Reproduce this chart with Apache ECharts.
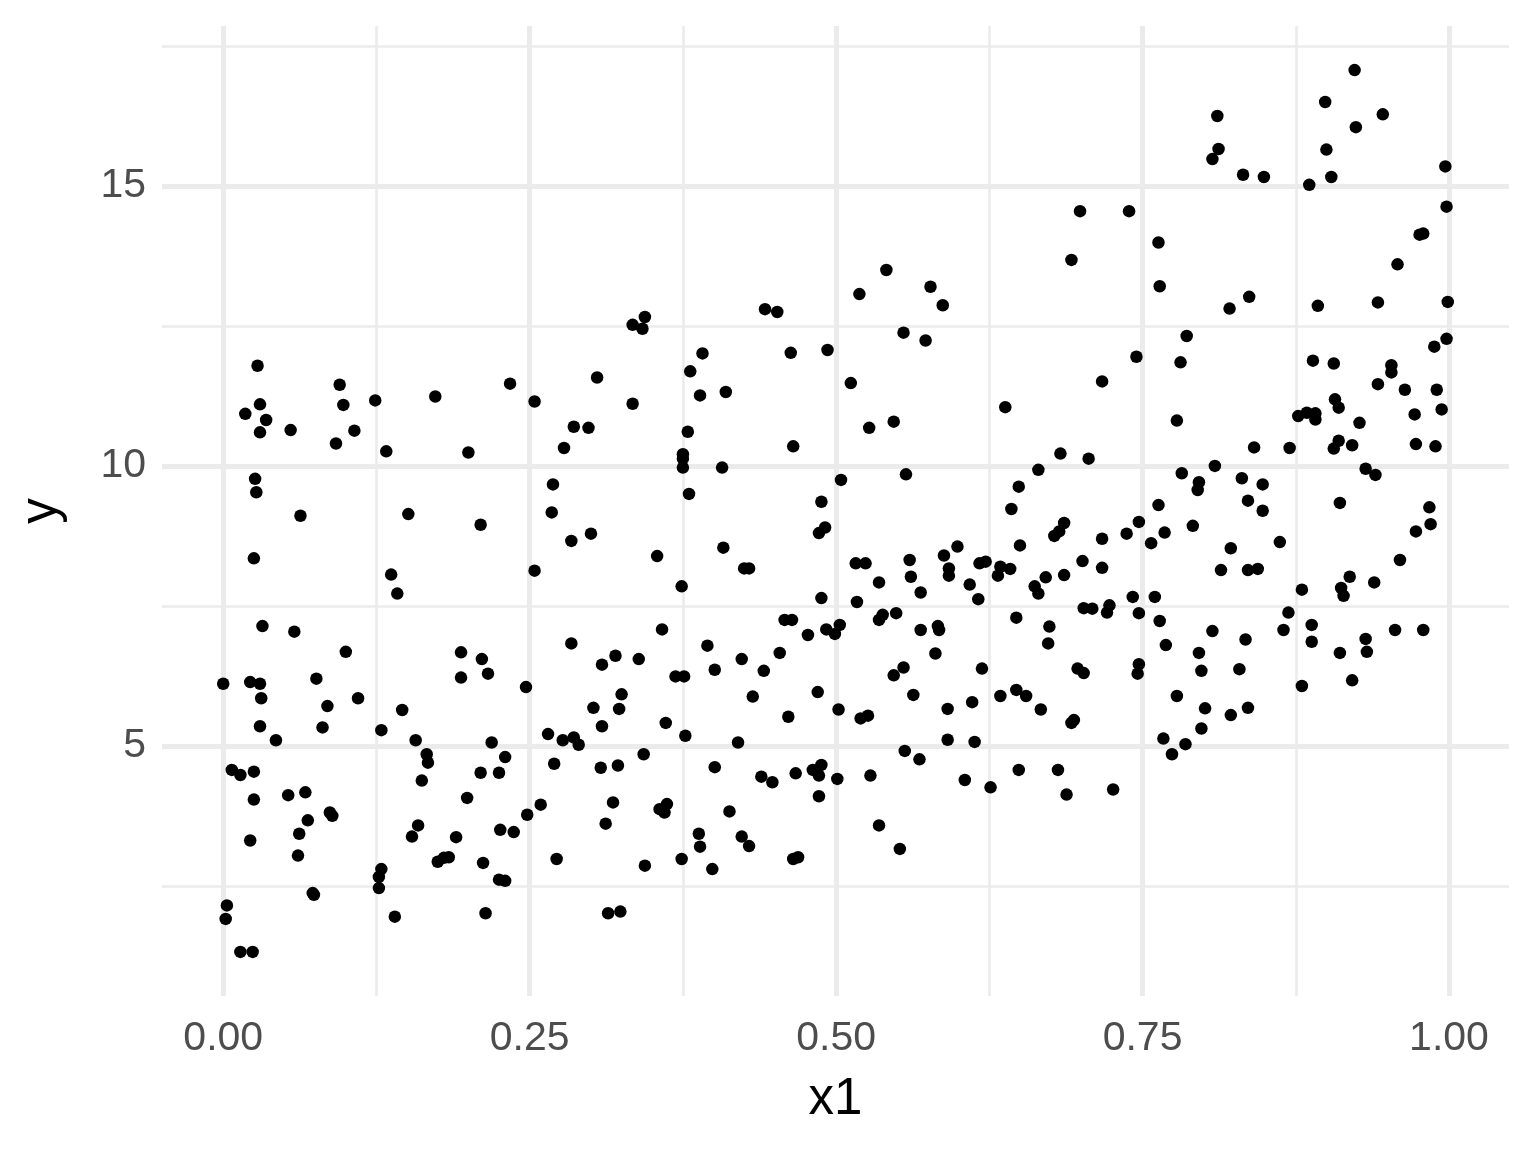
<!DOCTYPE html>
<html>
<head>
<meta charset="utf-8">
<script src="https://cdn.jsdelivr.net/npm/echarts@6/dist/echarts.min.js"></script>
<style>
html,body{margin:0;padding:0;background:#fff;}
#chart{width:1536px;height:1152px;}
</style>
</head>
<body>
<div id="chart"></div>
<script>
// x1 values
const x1 = [
0.334,0.344,0.342,0.391,0.442,0.452,0.463,0.493,0.519,0.541,
0.577,0.587,0.555,0.573,0.699,0.739,0.692,0.745,0.811,0.812,
0.807,0.832,0.849,0.923,0.899,0.946,0.924,0.900,0.904,0.886,
0.997,0.998,0.763,0.764,0.821,0.837,0.786,0.893,0.942,0.958,
0.976,0.979,0.999,0.998,0.988,0.028,0.095,0.030,0.018,0.035,
0.030,0.055,0.098,0.124,0.107,0.092,0.133,0.173,0.234,0.200,
0.026,0.027,0.063,0.151,0.210,0.025,0.137,0.142,0.032,0.058,
0.100,0.194,0.211,0.305,0.254,0.334,0.381,0.389,0.410,0.286,
0.298,0.278,0.379,0.375,0.375,0.375,0.465,0.407,0.269,0.268,
0.380,0.284,0.300,0.254,0.354,0.408,0.425,0.429,0.374,0.488,
0.491,0.486,0.488,0.358,0.284,0.320,0.339,0.395,0.423,0.454,
0.458,0.464,0.477,0.492,0.512,0.527,0.547,0.557,0.504,0.638,
0.717,0.683,0.706,0.665,0.649,0.643,0.686,0.682,0.678,0.717,
0.737,0.747,0.650,0.599,0.588,0.516,0.524,0.560,0.592,0.592,
0.617,0.622,0.634,0.642,0.632,0.561,0.535,0.569,0.609,0.616,
0.671,0.686,0.662,0.665,0.701,0.717,0.742,0.747,0.517,0.535,
0.538,0.549,0.499,0.503,0.569,0.583,0.584,0.581,0.647,0.674,
0.673,0.702,0.709,0.723,0.721,0.781,0.778,0.889,0.906,0.953,
0.953,0.942,0.964,0.990,0.994,0.972,0.907,0.910,0.877,0.884,
0.891,0.891,0.927,0.841,0.870,0.910,0.906,0.921,0.973,0.989,
0.809,0.782,0.796,0.795,0.831,0.848,0.836,0.848,0.932,0.940,
0.911,0.984,0.985,0.973,0.763,0.768,0.757,0.791,0.862,0.822,
0.814,0.836,0.844,0.960,0.919,0.939,0.880,0.912,0.914,0.760,
0.764,0.769,0.807,0.796,0.834,0.869,0.865,0.888,0.888,0.911,
0.932,0.933,0.956,0.979,0.000,0.022,0.030,0.031,0.030,0.043,
0.076,0.085,0.081,0.110,0.129,0.146,0.157,0.194,0.216,0.219,
0.230,0.210,0.225,0.007,0.014,0.025,0.025,0.053,0.067,0.087,
0.089,0.069,0.062,0.022,0.061,0.166,0.167,0.162,0.199,0.159,
0.154,0.190,0.175,0.180,0.184,0.212,0.226,0.237,0.225,0.230,
0.214,0.129,0.127,0.127,0.073,0.074,0.003,0.002,0.014,0.024,
0.140,0.309,0.369,0.376,0.401,0.441,0.247,0.325,0.302,0.323,
0.309,0.361,0.432,0.485,0.461,0.377,0.265,0.277,0.286,0.290,
0.420,0.343,0.270,0.308,0.322,0.401,0.439,0.448,0.467,0.481,
0.488,0.486,0.486,0.259,0.248,0.318,0.312,0.356,0.362,0.360,
0.413,0.388,0.389,0.423,0.429,0.272,0.344,0.374,0.399,0.465,
0.469,0.314,0.324,0.547,0.555,0.619,0.697,0.702,0.747,0.746,
0.563,0.502,0.520,0.526,0.591,0.611,0.634,0.647,0.655,0.667,
0.694,0.692,0.591,0.613,0.556,0.568,0.501,0.528,0.605,0.626,
0.649,0.681,0.688,0.726,0.535,0.552,0.798,0.829,0.880,0.921,
0.778,0.801,0.822,0.836,0.798,0.767,0.785,0.774
];
// y values
const yVals = [
12.52,12.66,12.45,12.01,12.80,12.75,12.02,12.07,13.07,13.50,
13.20,12.87,12.38,12.24,14.55,14.55,13.68,11.95,16.25,15.66,
15.48,15.20,15.16,17.07,16.50,16.28,16.05,15.65,15.16,15.02,
15.35,14.63,13.99,13.21,12.81,13.02,12.32,12.86,12.92,13.60,
14.13,14.15,12.93,12.27,12.13,11.79,11.45,11.10,10.93,10.82,
10.60,10.64,11.09,11.17,10.63,10.40,10.26,11.24,11.47,10.24,
9.77,9.53,9.11,9.14,8.95,8.35,8.06,7.72,7.14,7.04,
6.68,6.67,6.55,11.58,11.15,11.11,11.69,11.26,11.32,10.70,
10.68,10.32,10.61,10.21,10.13,9.97,10.35,9.97,9.67,9.17,
9.50,8.66,8.79,8.13,8.39,8.54,8.17,8.17,7.85,9.36,
8.90,8.80,7.64,7.08,6.83,6.61,6.55,6.79,6.55,6.66,
7.25,7.25,6.98,7.08,11.48,10.68,10.79,9.85,9.75,11.05,
11.51,10.22,10.13,9.93,9.63,9.23,8.98,8.83,8.75,8.70,
8.79,9.00,8.58,8.56,8.40,8.26,8.26,8.32,8.17,8.04,
8.26,8.29,8.20,8.16,8.04,8.02,7.92,7.74,7.88,7.62,
8.01,8.05,7.85,7.72,8.30,8.18,7.66,7.37,7.57,7.25,
7.34,7.37,7.00,7.16,7.07,7.14,7.07,6.65,7.29,7.13,
6.83,7.46,7.45,7.51,7.38,11.85,10.81,11.88,11.83,11.80,
11.67,11.46,11.36,11.36,11.01,10.92,11.19,11.04,10.89,10.95,
10.94,10.83,10.77,10.33,10.32,10.45,10.31,10.37,10.39,10.35,
10.00,9.87,9.71,9.57,9.78,9.67,9.38,9.20,9.95,9.84,
9.34,9.26,8.96,8.83,9.30,8.81,8.62,8.93,8.64,8.53,
8.14,8.14,8.16,8.32,8.02,7.92,7.79,7.82,7.68,7.66,
7.23,6.80,7.05,6.66,6.90,7.38,7.07,7.16,6.86,6.66,
6.91,6.68,7.07,7.07,6.11,6.14,6.11,5.85,5.35,5.10,
6.20,5.71,5.33,5.85,5.28,5.64,5.10,6.22,6.29,5.06,
4.80,4.52,4.52,4.57,4.48,4.54,4.04,4.12,4.17,3.81,
3.75,3.67,3.43,3.31,3.04,4.85,4.70,4.38,4.07,3.58,
3.38,3.37,2.93,3.00,3.01,2.91,3.50,3.46,2.61,2.59,
2.01,2.80,2.66,2.46,2.37,2.34,2.15,1.91,1.32,1.32,
1.95,6.45,6.24,6.24,6.36,6.34,6.05,5.92,5.68,5.66,
5.35,5.41,5.88,5.96,5.52,5.18,5.21,5.10,5.15,5.02,
5.06,4.85,4.68,4.61,4.65,4.62,4.45,4.35,4.51,4.57,
4.66,4.47,4.10,3.95,3.77,3.99,3.61,3.87,3.96,3.81,
3.83,3.43,3.20,3.38,3.21,2.98,2.86,2.98,2.80,2.98,
3.01,2.01,2.04,6.26,6.40,6.38,6.38,6.30,6.46,6.29,
5.91,5.65,5.49,5.54,5.66,5.78,5.89,6.00,5.89,5.65,
5.46,5.41,5.11,5.07,4.91,4.76,4.41,4.47,4.39,4.26,
4.57,4.57,4.13,4.22,3.58,3.16,6.34,6.37,6.07,6.17,
5.89,5.67,5.55,5.68,5.31,5.13,5.03,4.85
];
// tick values
const xMajorTicks = [0, 0.25, 0.5, 0.75, 1];
const xMinorTicks = [0.125, 0.375, 0.625, 0.875];
const yMajorTicks = [5, 10, 15];
const yMinorTicks = [2.5, 7.5, 12.5, 17.5];

const points = x1.map((v, i) => [v, yVals[i]]);

function expand(arr) {
  const lo = Math.min.apply(null, arr), hi = Math.max.apply(null, arr);
  const pad = (hi - lo) * 0.05;
  return [lo - pad, hi + pad];
}
const xr = expand(x1), yr = expand(yVals);

const gridColor = '#EBEBEB';
const gridLines = [];
xMinorTicks.forEach(v => gridLines.push({xAxis: v, lineStyle: {width: 2.6, color: gridColor, type: 'solid'}}));
yMinorTicks.forEach(v => gridLines.push({yAxis: v, lineStyle: {width: 2.6, color: gridColor, type: 'solid'}}));
xMajorTicks.forEach(v => gridLines.push({xAxis: v, lineStyle: {width: 5, color: gridColor, type: 'solid'}}));
yMajorTicks.forEach(v => gridLines.push({yAxis: v, lineStyle: {width: 5, color: gridColor, type: 'solid'}}));

const chart = echarts.init(document.getElementById('chart'), null, {renderer: 'canvas'});
chart.setOption({
  animation: false,
  backgroundColor: '#ffffff',
  textStyle: {fontFamily: 'Liberation Sans, Arial, sans-serif'},
  grid: {left: 162, right: 27, top: 26, bottom: 156, containLabel: false},
  xAxis: {
    type: 'value', min: xr[0], max: xr[1],
    axisLine: {show: false}, axisTick: {show: false}, splitLine: {show: false},
    axisLabel: {
      customValues: xMajorTicks, show: true, margin: 22,
      color: '#4D4D4D', fontSize: 41, fontFamily: 'Liberation Sans',
      formatter: v => Number(v).toFixed(2)
    },
    name: 'x1', nameLocation: 'middle', nameGap: 78,
    nameTextStyle: {color: '#000', fontSize: 51, fontFamily: 'Liberation Sans'}
  },
  yAxis: {
    type: 'value', min: yr[0], max: yr[1],
    axisLine: {show: false}, axisTick: {show: false}, splitLine: {show: false},
    axisLabel: {
      customValues: yMajorTicks, show: true, margin: 16,
      color: '#4D4D4D', fontSize: 41, fontFamily: 'Liberation Sans',
      formatter: v => String(Math.round(v))
    },
    name: 'y', nameLocation: 'middle', nameGap: 95, nameRotate: 90,
    nameTextStyle: {color: '#000', fontSize: 51, fontFamily: 'Liberation Sans'}
  },
  series: [
    {
      type: 'scatter', data: [], silent: true, z: 1,
      markLine: {
        silent: true, z: 0, precision: 6, symbol: ['none', 'none'], animation: false,
        label: {show: false}, emphasis: {disabled: true},
        data: gridLines
      }
    },
    {
      type: 'scatter', data: points, symbol: 'circle', symbolSize: 12.5, z: 10,
      itemStyle: {color: '#000000', opacity: 1},
      emphasis: {disabled: true}
    }
  ]
});
</script>
</body>
</html>
